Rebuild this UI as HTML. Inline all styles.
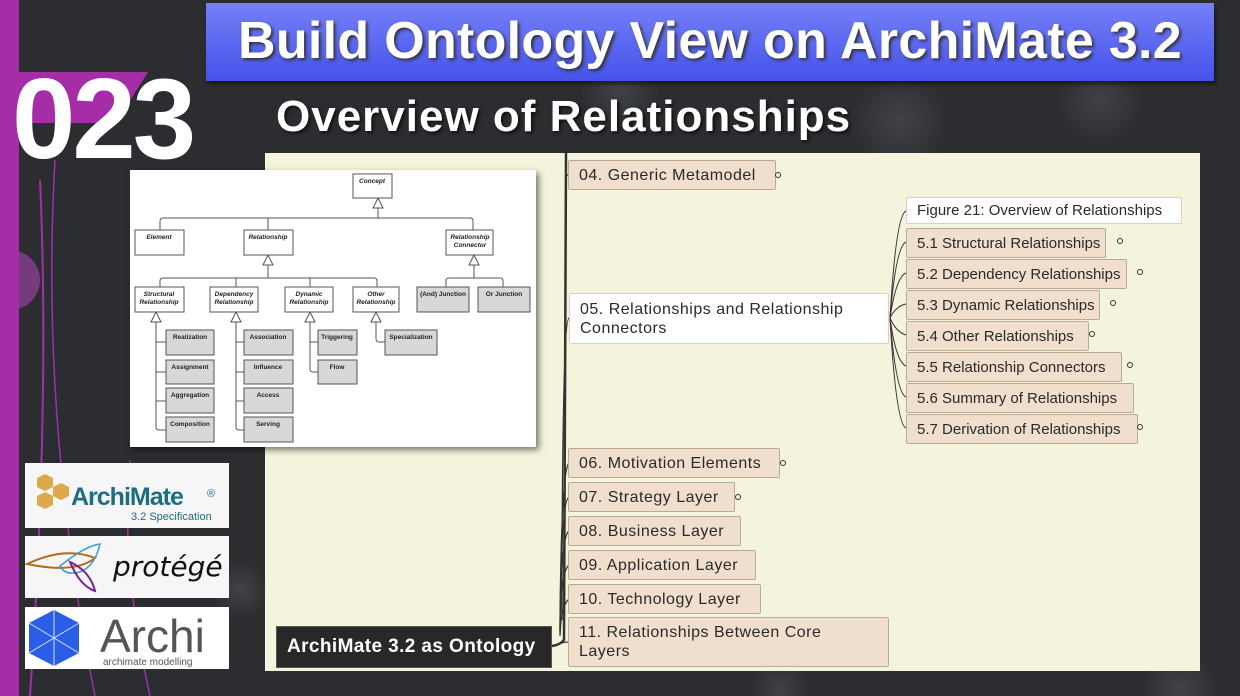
<!DOCTYPE html>
<html><head><meta charset="utf-8"><style>
*{margin:0;padding:0;box-sizing:border-box}
body{width:1240px;height:696px;overflow:hidden;position:relative;background:#2b2d31;font-family:"Liberation Sans",sans-serif}
.a{position:absolute}
.n{position:absolute;background:#efdfcc;border:1px solid #b9aa9a;border-radius:2px;font-size:16px;letter-spacing:0.5px;color:#2a2a2a;padding-left:10px;display:flex;align-items:center;line-height:19px;white-space:nowrap}
.s{font-size:15px;letter-spacing:0}
.w{background:#fff;border-color:#e8c8c8}
.d{position:absolute;width:6px;height:6px;border:1.5px solid #333;border-radius:50%}
</style></head><body>
<svg class="a" style="left:0;top:0" width="1240" height="696">
<defs><radialGradient id="g"><stop offset="0" stop-color="#5a5d63" stop-opacity=".45"/><stop offset="1" stop-color="#5a5d63" stop-opacity="0"/></radialGradient></defs>
<circle cx="620" cy="90" r="40" fill="url(#g)"/><circle cx="900" cy="120" r="50" fill="url(#g)"/><circle cx="1100" cy="100" r="45" fill="url(#g)"/>
<circle cx="210" cy="250" r="35" fill="url(#g)"/><circle cx="240" cy="590" r="30" fill="url(#g)"/><circle cx="1180" cy="690" r="40" fill="url(#g)"/>
<circle cx="780" cy="690" r="30" fill="url(#g)"/><circle cx="10" cy="280" r="30" fill="#c04ac8" opacity=".5"/>
<path d="M40 180 Q50 400 30 696" stroke="#a030a8" stroke-width="2" fill="none"/>
<path d="M55 160 Q40 420 95 696" stroke="#a030a8" stroke-width="1.5" fill="none"/>
<path d="M130 460 Q120 560 150 696" stroke="#a030a8" stroke-width="1.5" fill="none"/>
</svg>
<div class="a" style="left:0;top:0;width:19px;height:696px;background:#a52ea8"></div>
<div class="a" style="left:17px;top:72px;width:100px;height:51px;background:#a52ea8"></div>
<div class="a" style="left:116px;top:72px;width:0;height:0;border-top:51px solid #a52ea8;border-right:32px solid transparent"></div>
<div class="a" style="left:12px;top:62px;font-size:114px;font-weight:bold;color:#fff;letter-spacing:-3px;line-height:116px">023</div>
<div class="a" style="left:206px;top:3px;width:1008px;height:78px;background:linear-gradient(#7680f8,#4452ea);box-shadow:2px 3px 4px rgba(0,0,0,.5);color:#fff;font-size:52px;letter-spacing:0.3px;font-weight:bold;text-align:center;line-height:76px;text-shadow:2px 2px 3px #333;white-space:nowrap">Build Ontology View on ArchiMate 3.2</div>
<div class="a" style="left:276px;top:92px;font-size:44px;letter-spacing:1px;font-weight:bold;color:#fff;text-shadow:2px 2px 3px #111;white-space:nowrap">Overview of Relationships</div>
<div class="a" style="left:265px;top:153px;width:935px;height:518px;background:#f4f4dc"></div>
<svg class="a" style="left:0;top:0" width="1240" height="696">
<g stroke="#333" fill="none" stroke-width="1.3">
<path d="M566 153 L564 640 Q560 645 552 646" stroke-width="2.5"/>
<path d="M566 175 Q568 175 569 175"/>
<path d="M562 620 Q562 320 569 318"/>
<path d="M560 630 Q561 470 569 463"/><path d="M560 630 Q561 500 569 497"/><path d="M560 632 Q561 535 569 531"/>
<path d="M560 634 Q561 570 569 565"/><path d="M560 636 Q561 605 569 599"/><path d="M556 645 Q562 642 569 642"/>
<g stroke-width="1">
<path d="M890 318 Q896 215 906 211"/><path d="M890 318 Q896 246 906 242"/><path d="M890 318 Q896 277 906 273"/>
<path d="M890 318 Q896 306 906 304"/><path d="M890 318 Q896 332 906 335"/><path d="M890 318 Q896 362 906 366"/>
<path d="M890 318 Q896 393 906 397"/><path d="M890 318 Q896 424 906 428"/></g>
</g></svg>
<div class="n" style="left:568px;top:160px;width:208px;height:30px">04. Generic Metamodel</div><div class="d" style="left:775px;top:172px"></div>
<div class="n w s" style="left:906px;top:197px;width:276px;height:27px">Figure 21: Overview of Relationships</div>
<div class="n s" style="left:906px;top:228px;width:200px;height:30px">5.1 Structural Relationships</div><div class="d" style="left:1117px;top:238px"></div>
<div class="n s" style="left:906px;top:259px;width:221px;height:30px">5.2 Dependency Relationships</div><div class="d" style="left:1137px;top:269px"></div>
<div class="n s" style="left:906px;top:290px;width:194px;height:30px">5.3 Dynamic Relationships</div><div class="d" style="left:1110px;top:300px"></div>
<div class="n s" style="left:906px;top:321px;width:183px;height:30px">5.4 Other Relationships</div><div class="d" style="left:1089px;top:331px"></div>
<div class="n s" style="left:906px;top:352px;width:216px;height:30px">5.5 Relationship Connectors</div><div class="d" style="left:1127px;top:362px"></div>
<div class="n s" style="left:906px;top:383px;width:228px;height:30px">5.6 Summary of Relationships</div>
<div class="n s" style="left:906px;top:414px;width:232px;height:30px">5.7 Derivation of Relationships</div><div class="d" style="left:1137px;top:424px"></div>
<div class="n w" style="left:569px;top:293px;width:320px;height:51px;line-height:19px">05. Relationships and Relationship<br>Connectors</div>
<div class="n" style="left:568px;top:448px;width:212px;height:30px">06. Motivation Elements</div><div class="d" style="left:780px;top:460px"></div>
<div class="n" style="left:568px;top:482px;width:167px;height:30px">07. Strategy Layer</div><div class="d" style="left:735px;top:494px"></div>
<div class="n" style="left:568px;top:516px;width:173px;height:30px">08. Business Layer</div>
<div class="n" style="left:568px;top:550px;width:188px;height:30px">09. Application Layer</div>
<div class="n" style="left:568px;top:584px;width:193px;height:30px">10. Technology Layer</div>
<div class="n" style="left:568px;top:617px;width:321px;height:50px">11. Relationships Between Core<br>Layers</div>
<div class="a" style="left:276px;top:626px;width:276px;height:42px;background:#2a2826;border:1px solid #555;color:#fff;font-weight:bold;font-size:19px;letter-spacing:0.4px;line-height:40px;padding-left:10px;white-space:nowrap">ArchiMate 3.2 as Ontology</div>
<svg class="a" style="left:130px;top:170px;box-shadow:3px 3px 6px rgba(0,0,0,.5)" width="406" height="277" viewBox="0 0 406 277">
<rect width="406" height="277" fill="#fff"/>
<g stroke="#555" stroke-width="1" fill="#fff">
<path d="M248 38 V48 M30 60 V51 Q30 48 33 48 H340 Q343 48 343 51 V60 M138 48 V60"/>
<path d="M138 95 V108 M30 117 V111 Q30 108 33 108 H244 Q247 108 247 111 V117 M106 108 V117 M180 108 V117"/>
<path d="M344 95 V108 M316 117 V111 Q316 108 319 108 H370 Q373 108 373 111 V117"/>
<path d="M26 152 V257 Q26 260 29 260 H36 M26 172 H36 M26 202 H36 M26 231 H36"/>
<path d="M106 152 V257 Q106 260 109 260 H114 M106 172 H114 M106 202 H114 M106 231 H114"/>
<path d="M180 152 V199 Q180 202 183 202 H188 M180 172 H188"/>
<path d="M246 152 V169 Q246 172 249 172 H255"/>
<path d="M243 38 L248 28 L253 38 Z M133 95 L138 85 L143 95 Z M339 95 L344 85 L349 95 Z M21 152 L26 142 L31 152 Z M101 152 L106 142 L111 152 Z M175 152 L180 142 L185 152 Z M241 152 L246 142 L251 152 Z"/>
<rect x="223" y="4" width="39" height="24"/><rect x="5" y="60" width="49" height="25"/><rect x="114" y="60" width="49" height="25"/><rect x="316" y="60" width="47" height="25"/>
<rect x="5" y="117" width="49" height="25"/><rect x="80" y="117" width="48" height="25"/><rect x="155" y="117" width="48" height="25"/><rect x="223" y="117" width="46" height="25"/>
<g fill="#d8d8d8"><rect x="287" y="117" width="52" height="25"/><rect x="348" y="117" width="52" height="25"/>
<rect x="36" y="160" width="48" height="25"/><rect x="36" y="190" width="48" height="24"/><rect x="36" y="218" width="48" height="25"/><rect x="36" y="247" width="48" height="25"/>
<rect x="114" y="160" width="49" height="25"/><rect x="114" y="190" width="49" height="24"/><rect x="114" y="218" width="49" height="25"/><rect x="114" y="247" width="49" height="25"/>
<rect x="188" y="160" width="39" height="25"/><rect x="188" y="190" width="39" height="24"/><rect x="255" y="160" width="52" height="25"/></g>
</g>
<g font-size="6.5" fill="#222" text-anchor="middle" font-style="italic" font-weight="bold">
<text x="242" y="13">Concept</text><text x="29" y="69">Element</text><text x="138" y="69">Relationship</text><text x="340" y="69">Relationship</text><text x="340" y="77">Connector</text>
<text x="29" y="126">Structural</text><text x="29" y="134">Relationship</text><text x="104" y="126">Dependency</text><text x="104" y="134">Relationship</text>
<text x="179" y="126">Dynamic</text><text x="179" y="134">Relationship</text><text x="246" y="126">Other</text><text x="246" y="134">Relationship</text></g>
<g font-size="6.5" fill="#222" text-anchor="middle" font-weight="bold">
<text x="313" y="126">(And) Junction</text><text x="374" y="126">Or Junction</text>
<text x="60" y="169">Realization</text><text x="60" y="199">Assignment</text><text x="60" y="227">Aggregation</text><text x="60" y="256">Composition</text>
<text x="138" y="169">Association</text><text x="138" y="199">Influence</text><text x="138" y="227">Access</text><text x="138" y="256">Serving</text>
<text x="207" y="169">Triggering</text><text x="207" y="199">Flow</text><text x="281" y="169">Specialization</text></g>
</svg>
<div class="a" style="left:25px;top:463px;width:204px;height:65px;background:#f6f6f6"></div>
<svg class="a" style="left:25px;top:463px" width="204" height="65">
<g fill="#dca84a"><polygon points="12,15 20,11 28,15 28,24 20,28 12,24"/><polygon points="28,24 36,20 44,24 44,33 36,37 28,33"/><polygon points="12,33 20,29 28,33 28,42 20,46 12,42"/></g>
<text x="46" y="42" font-size="25" font-weight="bold" fill="#1d6e80" font-family="Liberation Sans" letter-spacing="-1">ArchiMate</text>
<text x="182" y="34" font-size="11" fill="#1d6e80" font-family="Liberation Sans">®</text>
<text x="106" y="57" font-size="11" fill="#1d6e80" font-family="Liberation Sans">3.2 Specification</text></svg>
<div class="a" style="left:25px;top:536px;width:204px;height:62px;background:#f6f6f6"></div>
<svg class="a" style="left:25px;top:536px" width="204" height="62">
<path d="M2 28 Q40 10 70 22 Q50 38 2 28Z" stroke="#b86a1a" stroke-width="2" fill="none"/>
<path d="M35 30 Q60 10 75 8 Q70 30 55 36 Q40 40 35 30Z" stroke="#3a9ad0" stroke-width="1.5" fill="none"/>
<path d="M45 26 Q55 50 70 55 Q65 35 45 26Z" stroke="#7a2090" stroke-width="2" fill="none"/>
<text x="88" y="40" font-size="28" font-style="italic" fill="#111" font-family="DejaVu Sans">protégé</text></svg>
<div class="a" style="left:25px;top:607px;width:204px;height:62px;background:#fff"></div>
<svg class="a" style="left:25px;top:607px" width="204" height="62">
<polygon points="29,3 54,16 54,46 29,59 4,46 4,16" fill="#2a5ee8"/>
<g stroke="#cfe0ff" stroke-width="1"><path d="M29 3V59M4 16L54 46M54 16L4 46"/></g>
<text x="75" y="45" font-size="46" fill="#555" font-family="Liberation Sans">Archi</text>
<text x="78" y="58" font-size="10" fill="#555" font-family="Liberation Sans">archimate modelling</text></svg>
</body></html>
